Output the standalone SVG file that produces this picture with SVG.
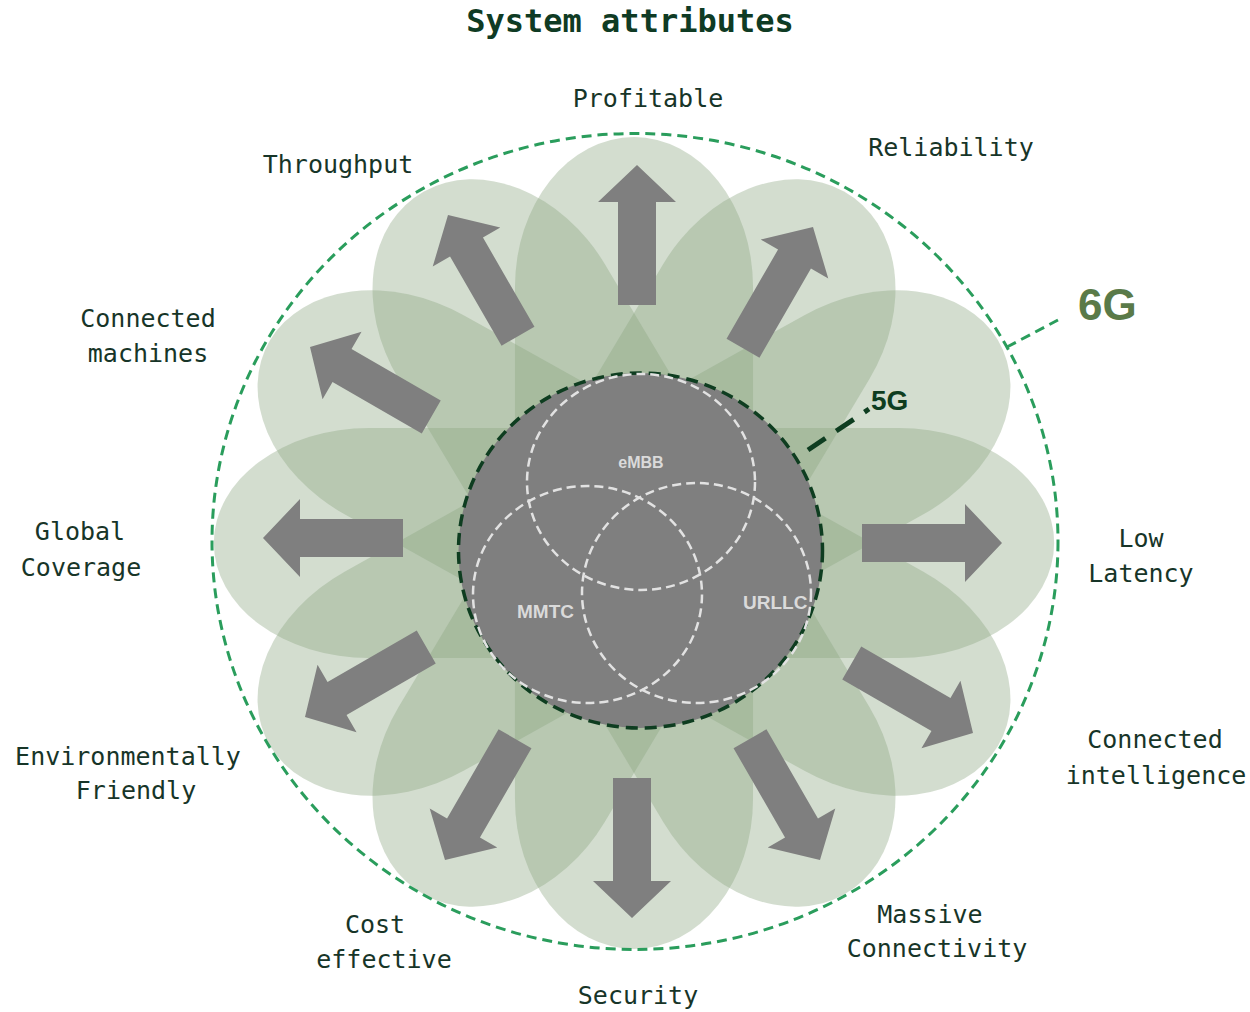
<svg xmlns="http://www.w3.org/2000/svg" xmlns:xlink="http://www.w3.org/1999/xlink" width="1250" height="1012" viewBox="0 0 1250 1012">
<style>
.lbl{font-family:"DejaVu Sans Mono","Liberation Mono",monospace;font-size:25px;fill:#173528;text-anchor:middle}
.title{font-family:"DejaVu Sans Mono","Liberation Mono",monospace;font-size:32px;font-weight:bold;fill:#0f3b24;text-anchor:middle}
.venn{fill:none;stroke:#e2e2e2;stroke-width:2.5;stroke-dasharray:9 5}
.vlbl{font-family:"Liberation Sans",Arial,sans-serif;font-weight:bold;fill:#dadada}
.arr{fill:#7f7f7f}
</style>
<defs>
<path id="petal" d="M -115 -90 L -115 -256 A 115 150 0 0 1 115 -256 L 115 -90 Z"/>
<path id="arrow" d="M0 0 L39 37 L19 37 L19 140 L-19 140 L-19 37 L-39 37 Z"/>
</defs>
<rect width="1250" height="1012" fill="#ffffff"/>

<text class="title" x="630" y="32">System attributes</text>

<g id="petals" transform="translate(634 543) scale(1.035 1)" fill="rgb(140,165,128)" fill-opacity="0.38">
<use xlink:href="#petal" transform="rotate(90)"/>
<use xlink:href="#petal" transform="rotate(60)"/>
<use xlink:href="#petal" transform="rotate(30)"/>
<use xlink:href="#petal" transform="rotate(0)"/>
<use xlink:href="#petal" transform="rotate(-30)"/>
<use xlink:href="#petal" transform="rotate(-60)"/>
<use xlink:href="#petal" transform="rotate(-90)"/>
<use xlink:href="#petal" transform="rotate(-120)"/>
<use xlink:href="#petal" transform="rotate(-150)"/>
<use xlink:href="#petal" transform="rotate(180)"/>
<use xlink:href="#petal" transform="rotate(150)"/>
<use xlink:href="#petal" transform="rotate(120)"/>
</g>

<g id="ring-6g">
<ellipse cx="635" cy="541.5" rx="423" ry="408" fill="none" stroke="#2a9d5c" stroke-width="3" stroke-dasharray="10 6"/>
</g>

<g id="connectors">
<use class="arr" xlink:href="#arrow" transform="translate(637 165) rotate(0)"/>
<use class="arr" xlink:href="#arrow" transform="translate(813 227) rotate(30)"/>
<use class="arr" xlink:href="#arrow" transform="translate(1002 543) rotate(90)"/>
<use class="arr" xlink:href="#arrow" transform="translate(973 733) rotate(120)"/>
<use class="arr" xlink:href="#arrow" transform="translate(820 860) rotate(150)"/>
<use class="arr" xlink:href="#arrow" transform="translate(632 918) rotate(180)"/>
<use class="arr" xlink:href="#arrow" transform="translate(445 860) rotate(210)"/>
<use class="arr" xlink:href="#arrow" transform="translate(305 717) rotate(240)"/>
<use class="arr" xlink:href="#arrow" transform="translate(263 538) rotate(270)"/>
<use class="arr" xlink:href="#arrow" transform="translate(310 347) rotate(300)"/>
<use class="arr" xlink:href="#arrow" transform="translate(448 215) rotate(330)"/>
<line x1="1007" y1="347" x2="1058" y2="320" stroke="#2a9d5c" stroke-width="3" stroke-dasharray="10 6"/>
<line x1="808" y1="450" x2="869" y2="409" stroke="#0e3d20" stroke-width="5" stroke-dasharray="21 13"/>
</g>

<g id="core-5g">
<ellipse cx="640.5" cy="550.5" rx="182" ry="177.5" fill="#7f7f7f" stroke="#0e3d20" stroke-width="3.5" stroke-dasharray="12 7"/>
<ellipse class="venn" cx="641" cy="482" rx="114" ry="108"/>
<ellipse class="venn" cx="587.5" cy="594.5" rx="114.5" ry="108.5"/>
<ellipse class="venn" cx="696.5" cy="593" rx="114.5" ry="110"/>
<text class="vlbl" x="641" y="468" font-size="16" text-anchor="middle">eMBB</text>
<text class="vlbl" x="517" y="618" font-size="19">MMTC</text>
<text class="vlbl" x="743" y="609" font-size="19">URLLC</text>
</g>

<g id="label-5g"><text x="871" y="410" font-family="'Liberation Sans',Arial,sans-serif" font-weight="bold" font-size="28" fill="#0e3d20">5G</text></g>
<g id="label-6g"><text x="1078" y="320" font-family="'Liberation Sans',Arial,sans-serif" font-weight="bold" font-size="44" fill="#5a7a48">6G</text></g>

<g id="node-profitable"><text class="lbl" x="648" y="107">Profitable</text></g>
<g id="node-reliability"><text class="lbl" x="951" y="156">Reliability</text></g>
<g id="node-throughput"><text class="lbl" x="338" y="173">Throughput</text></g>
<g id="node-connected-machines"><text class="lbl" x="148" y="327">Connected</text><text class="lbl" x="148" y="362">machines</text></g>
<g id="node-global-coverage"><text class="lbl" x="80" y="540">Global</text><text class="lbl" x="81" y="576">Coverage</text></g>
<g id="node-low-latency"><text class="lbl" x="1141" y="547">Low</text><text class="lbl" x="1141" y="582">Latency</text></g>
<g id="node-connected-intelligence"><text class="lbl" x="1155" y="748">Connected</text><text class="lbl" x="1156" y="784">intelligence</text></g>
<g id="node-environmentally-friendly"><text class="lbl" x="128" y="765">Environmentally</text><text class="lbl" x="136" y="799">Friendly</text></g>
<g id="node-cost-effective"><text class="lbl" x="375" y="933">Cost</text><text class="lbl" x="384" y="968">effective</text></g>
<g id="node-security"><text class="lbl" x="638" y="1004">Security</text></g>
<g id="node-massive-connectivity"><text class="lbl" x="930" y="923">Massive</text><text class="lbl" x="937" y="957">Connectivity</text></g>
</svg>
